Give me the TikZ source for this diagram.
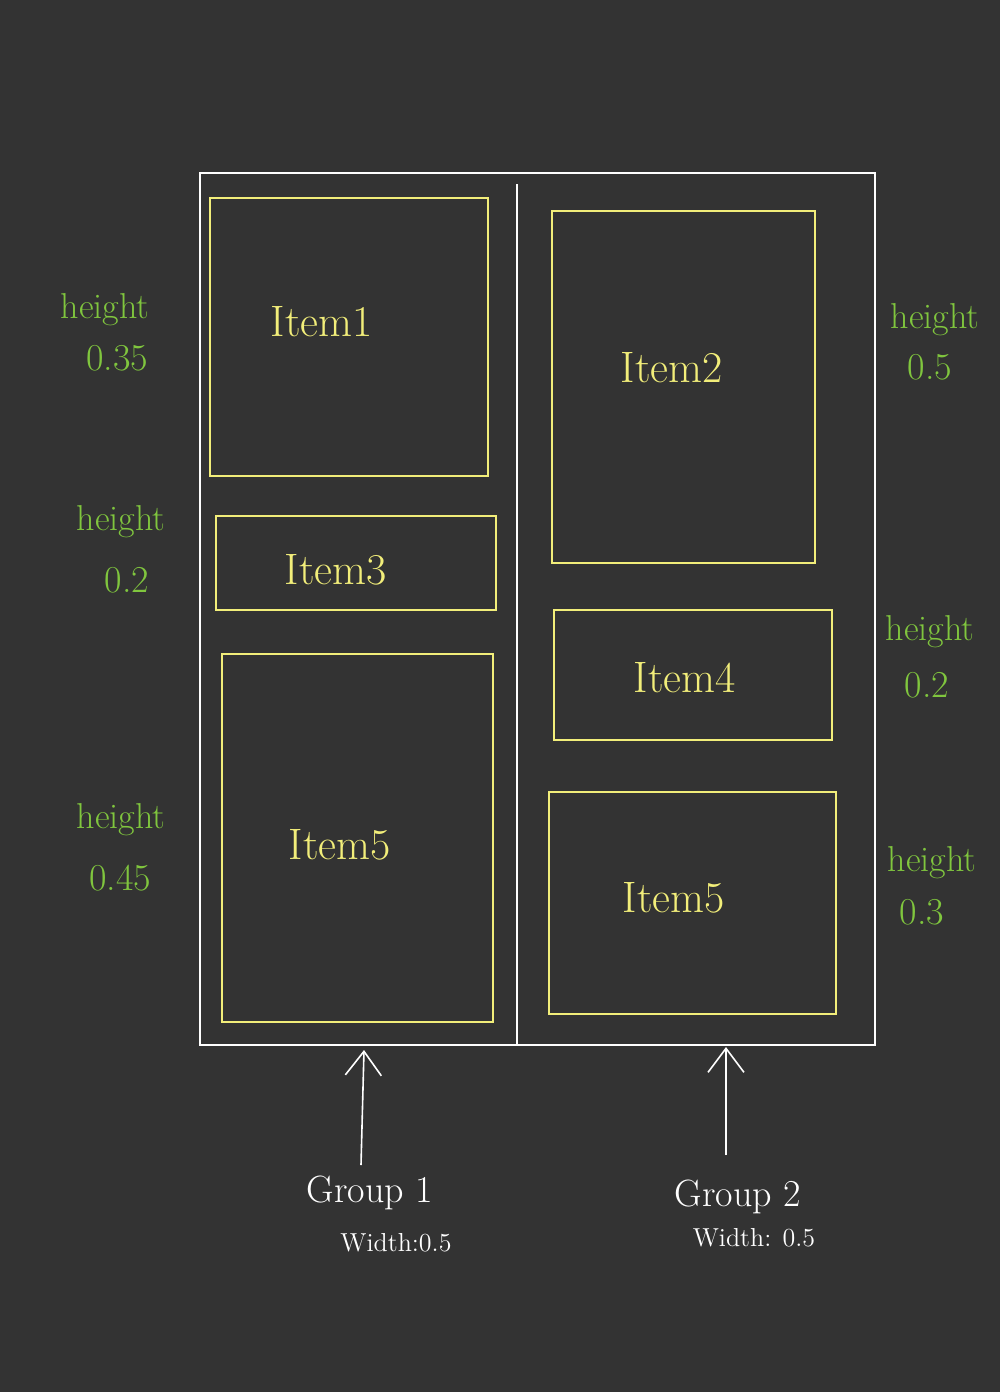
\documentclass[tikz,border=0pt]{standalone}
\usetikzlibrary{arrows.meta}
\definecolor{board}{HTML}{333333}
\definecolor{marker}{HTML}{F2EE7A}
\definecolor{chalkgreen}{HTML}{80C63E}
\tikzset{
	itembox/.style={draw=marker, line width=0.8pt},
	itemtext/.style={text=marker, font=\fontsize{22}{24}\selectfont},
	htext/.style={text=chalkgreen, font=\fontsize{18}{20}\selectfont},
	hval/.style={text=chalkgreen, font=\fontsize{19}{21}\selectfont},
	gtext/.style={text=white, font=\fontsize{19}{21}\selectfont},
	wtext/.style={text=white, font=\fontsize{13}{15}\selectfont}
}
\begin{document}
\begin{tikzpicture}[x=0.5pt,y=-0.5pt,>={Straight Barb[length=12pt,width=18pt]}]
	\fill [board] (0, 0) rectangle (1000, 1392);
	\useasboundingbox (0, 0) rectangle (1000, 1392);

	% outer frame and group divider
	\draw [white, line width=0.8pt] (200, 173) rectangle (875, 1045);
	\draw [white, line width=0.8pt] (517, 184) -- (517, 1045);

	% group 1
	\draw [itembox] (210, 198) rectangle (488, 476);
	\draw [itembox] (216, 516) rectangle (496, 610);
	\draw [itembox] (222, 654) rectangle (493, 1022);
	\node [itemtext] (item1) at (322, 322) {Item1};
	\node [itemtext] (item3) at (336, 570) {Item3};
	\node [itemtext] (item5a) at (340, 845) {Item5};

	% group 2
	\draw [itembox] (552, 211) rectangle (815, 563);
	\draw [itembox] (554, 610) rectangle (832, 740);
	\draw [itembox] (549, 792) rectangle (836, 1014);
	\node [itemtext] (item2) at (672, 368) {Item2};
	\node [itemtext] (item4) at (685, 678) {Item4};
	\node [itemtext] (item5b) at (674, 898) {Item5};

	% heights
	\node [htext] (h1) at (105, 310) {height};
	\node [hval] (v1) at (117, 358) {0.35};
	\node [htext] (h3) at (121, 522) {height};
	\node [hval] (v3) at (127, 580) {0.2};
	\node [htext] (h5) at (121, 820) {height};
	\node [hval] (v5) at (120, 878) {0.45};

	\node [htext] (h2) at (935, 320) {height};
	\node [hval] (v2) at (930, 367) {0.5};
	\node [htext] (h4) at (930, 632) {height};
	\node [hval] (v4) at (927, 685) {0.2};
	\node [htext] (h6) at (932, 863) {height};
	\node [hval] (v6) at (922, 912) {0.3};

	% group labels
	\node [gtext] (g1) at (370, 1193) {Group 1};
	\node [wtext] (w1) at (396, 1243) {Width:0.5};
	\node [gtext] (g2) at (738, 1197) {Group 2};
	\node [wtext] (w2) at (754, 1238) {Width: 0.5};

	\coordinate (foot1) at (361, 1165);
	\coordinate (tip1) at (364, 1050);
	\coordinate (foot2) at (726, 1155);
	\coordinate (tip2) at (726, 1047);
	\draw [->, white, line width=0.8pt] (foot1) -- (tip1);
	\draw [->, white, line width=0.8pt] (foot2) -- (tip2);
\end{tikzpicture}
\end{document}
